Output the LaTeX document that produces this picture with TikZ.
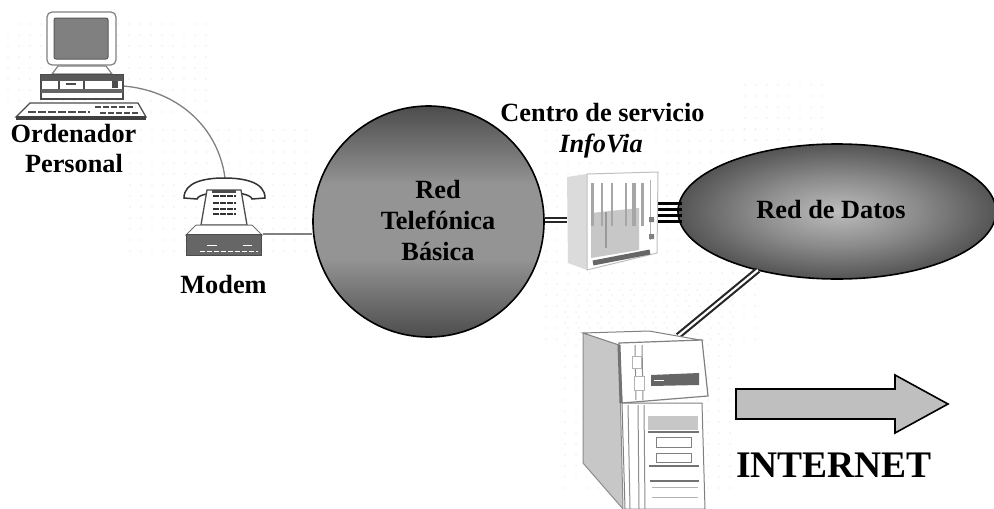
\documentclass[tikz,border=0pt]{standalone}
\usepackage{fontspec}
\setmainfont{Liberation Serif}
\usetikzlibrary{shapes.geometric,shapes.arrows}
\definecolor{edgegray}{gray}{0.5}
\definecolor{panelgray}{gray}{0.78}
\definecolor{palegray}{gray}{0.86}
\definecolor{arrowgray}{gray}{0.75}
\definecolor{rtbedge}{gray}{0.30}
\definecolor{rtbmid}{gray}{0.58}
\definecolor{datosc}{gray}{0.74}
\definecolor{datosm}{gray}{0.55}
\definecolor{datose}{gray}{0.33}
\pgfdeclareverticalshading{rtbshade}{100bp}{color(0bp)=(rtbedge); color(25bp)=(rtbedge); color(42bp)=(rtbmid); color(58bp)=(rtbmid); color(75bp)=(rtbedge); color(100bp)=(rtbedge)}
\pgfdeclareradialshading{datosshade}{\pgfpoint{0bp}{0bp}}{color(0bp)=(datosc); color(12.5bp)=(datosm); color(25bp)=(datose); color(50bp)=(datose)}
\tikzset{
  x=1pt,y=-1pt,
  lbl/.style={anchor=base,font=\fontsize{26.3}{28}\selectfont\bfseries,inner sep=0pt,align=center},
  wire/.style={draw=edgegray,line width=1.6pt},
  icon/.style={draw=edgegray,line width=1.2pt},
  darkicon/.style={draw=black!70,fill=black!60,line width=.8pt},
}
\newcommand{\dbl}[2]{\draw[black!85,line width=6.5pt] (#1) -- (#2);\draw[white,line width=2.2pt] (#1) -- (#2);}
\begin{document}
\begin{tikzpicture}
\useasboundingbox (0,0) rectangle (994,509);
\fill[white] (0,0) rectangle (994,509);
% faint dotted texture
\foreach \xa/\ya/\xb/\yb in {8/24/210/112, 130/130/312/260, 546/130/760/340, 565/290/740/490, 745/85/830/140}{
  \pgfmathtruncatemacro\xs{\xa+11}
  \pgfmathtruncatemacro\ys{\ya+11}
  \foreach \i in {\xa,\xs,...,\xb}\foreach \j in {\ya,\ys,...,\yb}
    \fill[black!14] (\i,\j) circle (.7);
}
% named anchors for icons
\node[inner sep=0pt,minimum width=110,minimum height=100] (pc) at (81,60) {};
\node[inner sep=0pt,minimum width=82,minimum height=80] (modem) at (224,216) {};
\node[circle,draw=black,line width=1.6pt,inner sep=0pt,minimum size=231,shading=rtbshade] (rtb) at (428.5,221.5) {};
\node[ellipse,draw=black,line width=1.6pt,inner sep=0pt,minimum width=318,minimum height=135,shading=datosshade] (datos) at (837,211.5) {};
\node[inner sep=0pt,minimum width=90,minimum height=98] (centro) at (612,221) {};
\node[inner sep=0pt,minimum width=122,minimum height=178] (srv) at (644,420) {};
% connectors
\draw[wire,line width=1.3pt] (123,86) .. controls (175,90) and (218,125) .. (225,178);
\draw[wire] (modem.east |- 0,234) ++(-2,0) -- (rtb.west |- 0,234);
\dbl{rtb.east |- 0,220}{centro.west |- 0,220}
\foreach \yy in {203,209,215,221}{\draw[black,line width=3pt] (centro.east |- 0,\yy) ++(-8,0) -- (682,\yy);}
\coordinate (srvtop) at (678,336);
\coordinate (datosbot) at (758,270);
\dbl{srvtop}{datosbot}
% computer
\draw[icon,fill=white,rounded corners=5pt] (47,12) -- (116,12) -- (116,65) -- (47,65) -- cycle;
\draw[fill=black!50,draw=black!65,rounded corners=2pt,line width=1pt] (54,18) rectangle (108,59);
\draw[icon,fill=white] (58,66) -- (106,66) -- (112,74) -- (52,74) -- cycle;
\draw[draw=black!70,fill=white,line width=1.5pt] (41,75) rectangle (123,99);
\fill[black!65] (41,75) rectangle (123,81);
\fill[black!60] (41,89) rectangle (123,93);
\draw[black!70,line width=1.5pt] (59,81) -- (59,89) (84,81) -- (84,89);
\draw[black!70,line width=1.5pt] (66,84) -- (76,84);
\fill[black!70] (112,81) rectangle (118,88);
\draw[black!70,dash pattern=on 3pt off 1.5pt,line width=2pt] (44,99) -- (121,99);
\draw[draw=black!70,fill=white,line width=1.2pt] (30,103) -- (138,103) -- (146,117) -- (16,117) -- cycle;
\fill[black!75] (16,116) rectangle (146,120);
\draw[black!70,line width=2.5pt,dash pattern=on 8pt off 2pt] (28,112) -- (90,112);
\draw[black!70,line width=2.5pt,dash pattern=on 6pt off 2pt] (95,107) -- (135,107) (100,113) -- (140,113);
% phone and modem
\draw[draw=black!80,fill=white,line width=1.5pt] (184,198) .. controls (184,182) and (205,178) .. (224,178) .. controls (244,178) and (265,182) .. (265,198) -- (252,199) .. controls (250,190) and (200,190) .. (197,199) -- cycle;
\draw[draw=black!70,fill=white,line width=1.3pt] (207,190) -- (241,190) -- (247,225) -- (201,225) -- cycle;
\fill[black!70] (212,190) rectangle (236,193);
\foreach \yy in {196,203,209,214}{\draw[black!80,line width=2.5pt,dash pattern=on 6pt off 1pt] (213,\yy) -- (236,\yy);}
\draw[draw=black!55,fill=white,line width=1pt] (196,225) -- (252,225) -- (262,235) -- (186,235) -- cycle;
\draw[darkicon] (186,234) rectangle (261,255);
\draw[white,line width=1pt,dash pattern=on 5pt off 2pt] (200,251) -- (258,251);
\draw[white,line width=.8pt] (207,245) -- (217,245) (243,245) -- (252,245);
% rack
\fill[palegray] (567,177) -- (587,174) -- (587,270) -- (568,263) -- cycle;
\fill[white,draw=black!25,line width=1pt] (587,174) -- (658,172) -- (657,253) -- (587,270) -- cycle;
\fill[panelgray] (591,213) -- (639,208) -- (639,250) -- (591,258) -- cycle;
\foreach \xx/\lw in {592/3,602/2,612/2,626/2,634/4,642/3}{\draw[black!35,line width=\lw pt] (\xx,183) -- (\xx,226);}
\draw[black!40,line width=2pt] (606,212) -- (606,248);
\draw[black!60,line width=5pt] (593,263) -- (650,252);
\draw[black!30,line width=1pt] (650,180) -- (650,240);
\fill[black!50] (649,217) rectangle (654,222) (649,234) rectangle (654,239);
% tower
\fill[panelgray,draw=black!45,line width=1pt] (583,333) -- (619,343) -- (623,509) -- (583,463) -- cycle;
\fill[white,draw=black!50,line width=1pt] (583,333) -- (649,331) -- (700,340) -- (619,345) -- cycle;
\fill[white,draw=black!50,line width=1.2pt] (619,343) -- (702,340) -- (708,396) -- (622,403) -- cycle;
\fill[white,draw=black!50,line width=1pt] (622,403) -- (702,403) -- (705,509) -- (625,509) -- cycle;
\draw[black!55,line width=3pt] (619,345) -- (621,403);
\fill[black!60] (651,375) -- (699,373) -- (699,385) -- (651,386) -- cycle;
\draw[white,line width=1pt] (654,380) -- (664,380);
\draw[black!45,line width=1pt] (635,345) -- (636,400) (642,345) -- (643,400);
\fill[white,draw=black!30] (632,356) rectangle (641,368) (634,376) rectangle (644,390);
\draw[black!45,line width=1pt] (628,405) -- (630,509) (638,405) -- (639,509) (644,405) -- (645,509);
\fill[panelgray] (648,416) -- (698,416) -- (698,430) -- (648,430) -- cycle;
\draw[black!55,line width=1.2pt] (648,432) -- (699,432) (649,466) -- (699,466) (650,481) -- (699,481);
\draw[black!50,line width=1pt] (656,437) rectangle (691,447) (656,453) rectangle (691,462);
\draw[black!30,line width=1pt] (652,487) -- (698,487) (652,497) -- (698,497);
% labels
\node[lbl] (ord) at (73.5,142) {Ordenador};
\node[lbl] (per) at (74,172) {Personal};
\node[lbl] (mod) at (223.5,293) {Modem};
\node[lbl] (cs) at (602.5,121) {Centro de servicio};
\node[lbl,font=\fontsize{26.3}{28}\selectfont\bfseries\itshape] (iv) at (601,152) {InfoVia};
\node[lbl] (r1) at (438,198) {Red};
\node[lbl] (r2) at (438,229) {Telefónica};
\node[lbl] (r3) at (438,260) {Básica};
\node[lbl] (rd) at (831,218) {Red de Datos};
\node[lbl,font=\fontsize{37.5}{40}\selectfont\bfseries] (inet) at (834,477) {INTERNET};
% arrow
\draw[draw=black,fill=arrowgray,line width=1.6pt] (736,389) -- (895,389) -- (895,375) -- (948,404) -- (895,433) -- (895,419) -- (736,419) -- cycle;
\end{tikzpicture}
\end{document}
